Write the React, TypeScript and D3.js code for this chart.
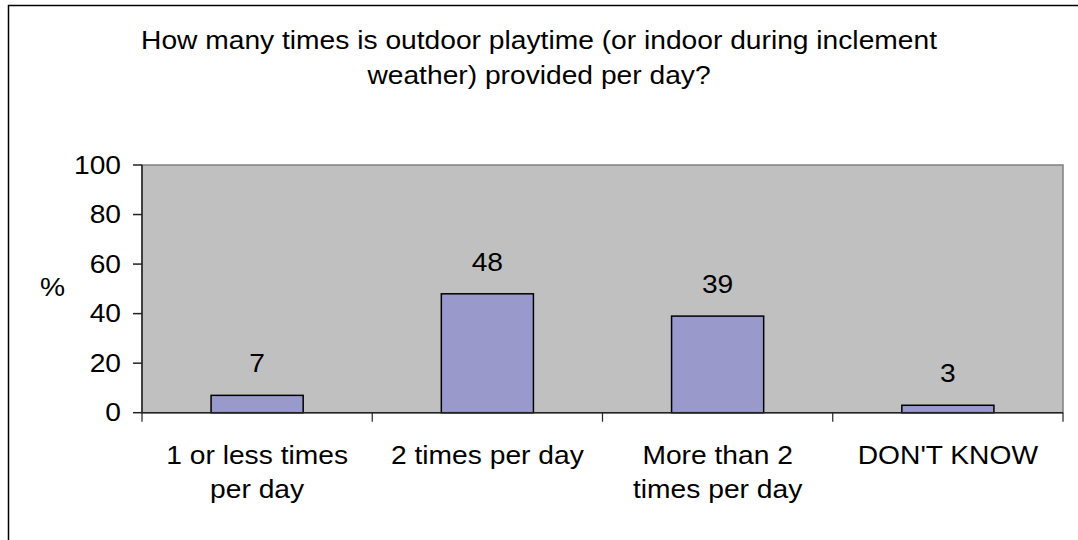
import React from 'react'
import * as d3 from 'd3'

const titleLines = [
  'How many times is outdoor playtime (or indoor during inclement',
  'weather) provided per day?'
]
const categories = ['1 or less times\nper day', '2 times per day', 'More than 2\ntimes per day', "DON'T KNOW"]
const values = [7, 48, 39, 3]
const yTicks = [0, 20, 40, 60, 80, 100]
const yLabel = '%'

const W = 1078
const H = 540
const plot = { left: 142, right: 1063, top: 165, bottom: 412.7 }
const FONT = '"Liberation Sans", Arial, sans-serif'
const FS = 26
const SX = 1.085

// text in the reference is a bit wider than it is tall, so stretch it a little
const Txt = ({ x, y, anchor = 'middle', children }: any) => (
  <text
    transform={`translate(${x},${y}) scale(${SX},1)`}
    textAnchor={anchor}
    fontFamily={FONT}
    fontSize={FS}
    fill="#000"
  >
    {children}
  </text>
)

export default function App() {
  const x = d3.scaleBand<string>()
    .domain(categories)
    .range([plot.left, plot.right])
    .paddingInner(0.6)
    .paddingOuter(0.3)
  const y = d3.scaleLinear().domain([0, 100]).range([plot.bottom, plot.top])
  const step = x.step()
  const center = (c: string) => (x(c) as number) + x.bandwidth() / 2

  return (
    <div style={{ position: 'absolute', left: 0, top: 0 }}>
      <svg width={W} height={H} style={{ display: 'block', overflow: 'hidden' }}>
        <rect x={0} y={0} width={W} height={H} fill="#fff" />
        {/* outer chart border, runs past the right and bottom edge */}
        <rect x={8.5} y={5.5} width={W + 50} height={H + 50} fill="none" stroke="#000" strokeWidth={1.5} />

        {titleLines.map((t, i) => (
          <Txt key={i} x={539} y={49 + i * 34.5}>{t}</Txt>
        ))}

        <rect
          x={plot.left}
          y={plot.top}
          width={plot.right - plot.left}
          height={plot.bottom - plot.top}
          fill="#c0c0c0"
          stroke="#808080"
          strokeWidth={1.5}
        />

        {/* y axis */}
        <line x1={plot.left} x2={plot.left} y1={plot.top} y2={plot.bottom} stroke="#222" strokeWidth={1.5} />
        {yTicks.map(t => (
          <g key={t}>
            <line x1={plot.left - 9} x2={plot.left} y1={y(t)} y2={y(t)} stroke="#222" strokeWidth={1.5} />
            <Txt x={121} y={y(t) + 8.5} anchor="end">{t}</Txt>
          </g>
        ))}
        <Txt x={40} y={296} anchor="start">{yLabel}</Txt>

        {/* bars */}
        {categories.map((c, i) => (
          <g key={c}>
            <rect
              x={x(c)}
              y={y(values[i])}
              width={x.bandwidth()}
              height={y(0) - y(values[i])}
              fill="#9999cc"
              stroke="#000"
              strokeWidth={1.5}
            />
            <Txt x={center(c)} y={y(values[i]) - 23}>{values[i]}</Txt>
          </g>
        ))}

        {/* x axis */}
        <line x1={plot.left} x2={plot.right} y1={plot.bottom} y2={plot.bottom} stroke="#222" strokeWidth={1.5} />
        {d3.range(categories.length + 1).map(i => (
          <line
            key={i}
            x1={plot.left + i * step}
            x2={plot.left + i * step}
            y1={plot.bottom}
            y2={plot.bottom + 9}
            stroke="#222"
            strokeWidth={1.2}
          />
        ))}
        {categories.map(c =>
          c.split('\n').map((line, j) => (
            <Txt key={c + j} x={center(c)} y={463.5 + j * 34}>{line}</Txt>
          ))
        )}
      </svg>
    </div>
  )
}
